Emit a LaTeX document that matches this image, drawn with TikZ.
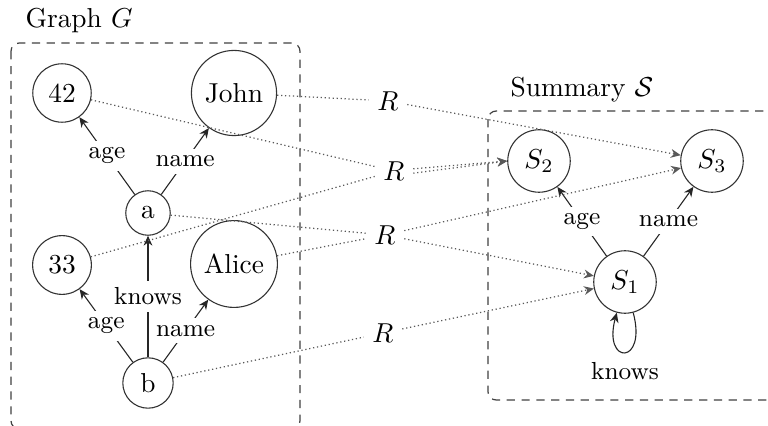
\documentclass[tikz,border=0pt]{standalone}
\usetikzlibrary{arrows.meta}
\begin{document}
\begin{tikzpicture}[x=0.365pt,y=-0.365pt,
  gnode/.style={circle,draw=black!80,line width=0.4pt},
  edge/.style={draw=black!85,line width=0.4pt,-{Stealth[length=3.6pt,width=3.2pt]}},
  lbl/.style={fill=white,inner sep=2.5pt,font=\small},
  rel/.style={draw=black!65,line width=0.45pt,densely dotted},
  relarrow/.style={rel,-{Stealth[length=3.6pt,width=3.2pt]}},
  rlabel/.style={inner sep=3pt},
  frame/.style={draw=black!75,line width=0.45pt,dash pattern=on 3pt off 2.4pt,rounded corners=3pt}]
\useasboundingbox (0,0) rectangle (768,426);

% frames and their titles
\draw[frame] (11,43) rectangle (300,429);
\node[anchor=base west,inner sep=0] (gtitle) at (25,28) {Graph $G$};
\draw[frame] (488,111) rectangle (790,400);
\node[anchor=base west,inner sep=0] (stitle) at (510,97) {Summary $\mathcal{S}$};

% data graph
\node[gnode] (n42) at (62,93) {42};
\node[gnode] (john) at (234,93) {John};
\node[gnode] (a) at (148,213) {a};
\node[gnode] (n33) at (62,265) {33};
\node[gnode] (alice) at (234,264) {Alice};
\node[gnode] (b) at (148,383) {b};

\draw[edge] (a) -- node[lbl] {age} (n42);
\draw[edge] (a) -- node[lbl] {name} (john);
\draw[edge] (b) -- node[lbl] {knows} (a);
\draw[edge] (b) -- node[lbl] {age} (n33);
\draw[edge] (b) -- node[lbl] {name} (alice);

% summary graph
\node[gnode] (s2) at (539,161) {$S_2$};
\node[gnode] (s3) at (712,161) {$S_3$};
\node[gnode] (s1) at (625,282) {$S_1$};

\draw[edge] (s1) -- node[lbl] {age} (s2);
\draw[edge] (s1) -- node[lbl] {name} (s3);
\draw[edge] (s1) to[out=-75,in=-105,looseness=8.5] (s1);
\node[font=\small] (sknows) at (625,371) {knows};

% relation R between the two graphs
\node[rlabel] (r1) at (388,101) {$R$};
\node[rlabel] (r2) at (394,171) {$R$};
\node[rlabel] (r3) at (385,235) {$R$};
\node[rlabel] (r4) at (383,333) {$R$};

\draw[rel] (john) -- (r1);
\draw[relarrow] (r1) -- (s3);
\draw[rel] (n42) -- (r2);
\draw[rel] (n33) -- (r2);
\draw[relarrow] ([yshift=0.8pt]r2.east) -- (s2.west);
\draw[relarrow] ([yshift=-0.8pt]r2.east) -- (s2.west);
\draw[rel] (a) -- (r3);
\draw[rel] (alice) -- (r3);
\draw[relarrow] (r3) -- (s1);
\draw[relarrow] (r3) -- (s3);
\draw[rel] (b) -- (r4);
\draw[relarrow] (r4) -- (s1);
\end{tikzpicture}
\end{document}
